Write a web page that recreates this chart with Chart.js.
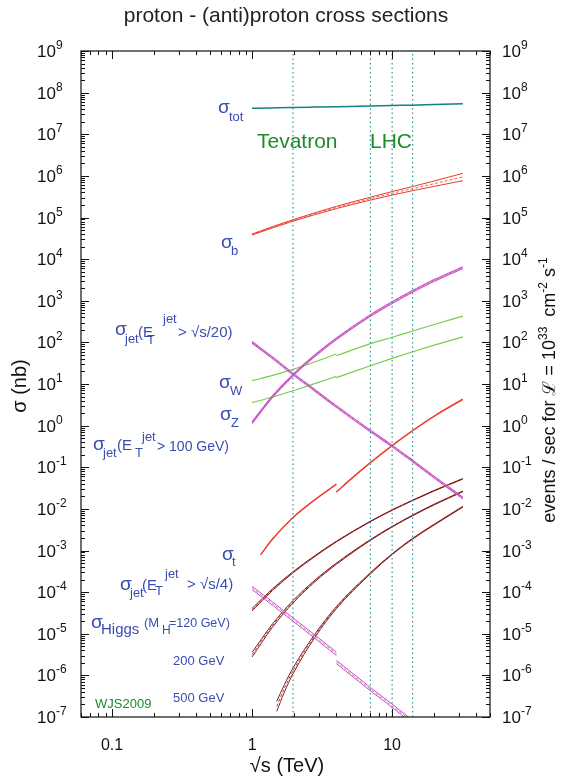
<!DOCTYPE html>
<html>
<head>
<meta charset="utf-8">
<title>proton - (anti)proton cross sections</title>
<script src="https://cdn.jsdelivr.net/npm/chart.js@4.4.1/dist/chart.umd.min.js"></script>
<style>
  html, body { margin: 0; padding: 0; background: #fff; }
  #wrap { width: 561px; height: 779px; }
</style>
</head>
<body>
<div id="wrap"><canvas id="xsec" width="561" height="779"></canvas></div>
<script>
// collider energies, sqrt(s) in TeV
const tevatronE = [1.96];
const lhcE = [7, 10, 14];

// sqrt(s) grids (TeV)
const sGrid = [1, 1.4, 1.96, 2.8, 4, 7, 10, 14, 20, 32];
const sPpbar = [1, 1.4, 1.96, 2.8, 4];
const sPp = [4, 7, 10, 14, 20, 32];
const sTopPpbar = [1.15, 1.4, 1.96, 2.8, 4];
const sTopPp = [4, 5, 7, 10, 14, 20, 32];
const sJet4Pp = [4, 7, 10, 14];
const sHiggs500 = [1.5, 1.7, 1.96, 2.8, 4, 7, 10, 14, 20, 32];

// cross sections (nb)
const sigmaTot = [4.2e7, 4.3e7, 4.4e7, 4.5e7, 4.6e7, 4.75e7, 4.9e7, 5.0e7, 5.2e7, 5.4e7];
const sigmaB = [3.9e4, 5.83e4, 8.5e4, 1.23e5, 1.74e5, 2.84e5, 3.81e5, 4.95e5, 6.5e5, 9.4e5];
const sigmaBBand = [0.012, 0.015, 0.018, 0.022, 0.027, 0.035, 0.042, 0.05, 0.065, 0.088];

const sigmaJet100 = [1.18, 5.0, 16.3, 47.4, 122, 443, 904, 1680, 3090, 6250];
const sigmaJet20 = [100, 42.7, 17.4, 7.1, 2.88, 0.74, 0.324, 0.141, 0.0575, 0.0182];
const jetBand = [0.02, 0.02, 0.02, 0.02, 0.02, 0.02, 0.02, 0.02, 0.02, 0.02];

const sigmaWPpbar = [12.0, 16.1, 22.5, 33.7, 52.4];
const sigmaWPp = [47.7, 93, 133, 188, 269, 427];
const sigmaZPpbar = [3.56, 4.88, 6.9, 10.2, 15.3];
const sigmaZPp = [14.2, 27.5, 41.3, 59.4, 86, 136];

const sigmaTopPpbar = [7.9e-4, 1.88e-3, 6.2e-3, 0.0165, 0.0393];
const sigmaTopPp = [0.0252, 0.0498, 0.129, 0.33, 0.757, 1.7, 4.3];

const sigmaJet4Ppbar = [1.26e-4, 5.3e-5, 2.19e-5, 8.6e-6, 3.3e-6];
const sigmaJet4Pp = [2.1e-6, 4.68e-7, 1.86e-7, 7.6e-8];
const jet4BandPpbar = [0.04, 0.04, 0.04, 0.04, 0.04];
const jet4BandPp = [0.04, 0.04, 0.04, 0.04];

const sigmaH120 = [3.8e-5, 1.15e-4, 3.0e-4, 7.3e-4, 1.64e-3, 5.0e-3, 9.35e-3, 0.016, 0.0274, 0.0528];
const h120Band = [0.03, 0.02, 0.014, 0.01, 0.008, 0.006, 0.006, 0.006, 0.006, 0.006];
const sigmaH200 = [3.15e-6, 1.58e-5, 5.86e-5, 1.84e-4, 4.82e-4, 1.79e-3, 3.73e-3, 6.95e-3, 0.01276, 0.0264];
const h200Band = [0.055, 0.04, 0.03, 0.02, 0.015, 0.01, 0.008, 0.008, 0.008, 0.008];
const sigmaH500 = [1.8e-7, 4.86e-7, 1.285e-6, 8.83e-6, 4.25e-5, 2.84e-4, 8.15e-4, 1.92e-3, 4.2e-3, 0.01127];
const h500Band = [0.12, 0.09, 0.07, 0.04, 0.025, 0.015, 0.01, 0.01, 0.01, 0.01];

// axis ticks
const yExponents = [-7, -6, -5, -4, -3, -2, -1, 0, 1, 2, 3, 4, 5, 6, 7, 8, 9];
const xTickValues = [0.1, 1, 10];
const xTickLabels = ["0.1", "1", "10"];

const X_MIN = 0.06, X_MAX = 50;
const Y_MIN = 1e-7, Y_MAX = 1e9;

const C_TEAL = "#16807f";
const C_RED = "#ec3a2a";
const C_PINK = "#c653c0";
const C_GREEN = "#72cf4c";
const C_BROWN = "#871d1d";
const C_DOT = "#2a9c9c";
const C_LABEL = "#3a4db2";
const C_GTEXT = "#1f8a2c";
const FONT = "'Liberation Sans', Arial, Helvetica, sans-serif";

function pts(xs, ys) {
  return xs.map((x, i) => ({ x: x, y: ys[i] }));
}

function line(xs, ys, color, width) {
  return { data: pts(xs, ys), borderColor: color, borderWidth: width };
}

// band: two solid edges and a dashed central curve
function band(xs, ys, widths, color, width) {
  const up = ys.map((y, i) => y * Math.pow(10, widths[i]));
  const lo = ys.map((y, i) => y / Math.pow(10, widths[i]));
  return [
    line(xs, up, color, width),
    { data: pts(xs, ys), borderColor: color, borderWidth: 0.8, borderDash: [3, 2] },
    line(xs, lo, color, width),
  ];
}

function vline(x) {
  return {
    data: [{ x: x, y: Y_MIN }, { x: x, y: Y_MAX }],
    borderColor: C_DOT,
    borderWidth: 1.2,
    borderDash: [1.5, 3],
    cubicInterpolationMode: "default",
    tension: 0,
  };
}

const datasets = [].concat(
  tevatronE.map(vline),
  lhcE.map(vline),
  [line(sGrid, sigmaTot, C_TEAL, 1.5)],
  band(sGrid, sigmaB, sigmaBBand, C_RED, 1),
  band(sGrid, sigmaJet100, jetBand, C_PINK, 1.1),
  band(sGrid, sigmaJet20, jetBand, C_PINK, 1.1),
  [line(sPpbar, sigmaWPpbar, C_GREEN, 1.2), line(sPp, sigmaWPp, C_GREEN, 1.2)],
  [line(sPpbar, sigmaZPpbar, C_GREEN, 1.2), line(sPp, sigmaZPp, C_GREEN, 1.2)],
  [line(sTopPpbar, sigmaTopPpbar, C_RED, 1.5), line(sTopPp, sigmaTopPp, C_RED, 1.5)],
  band(sPpbar, sigmaJet4Ppbar, jet4BandPpbar, C_PINK, 1),
  band(sJet4Pp, sigmaJet4Pp, jet4BandPp, C_PINK, 1),
  band(sGrid, sigmaH120, h120Band, C_BROWN, 1),
  band(sGrid, sigmaH200, h200Band, C_BROWN, 1),
  band(sHiggs500, sigmaH500, h500Band, C_BROWN, 1)
);

// text pieces at fixed spots: [text, x, baseline, size]
function put(ctx, parts, color) {
  parts.forEach((p) => {
    ctx.fillStyle = p[4] || color;
    ctx.font = p[3] + "px " + FONT;
    ctx.fillText(p[0], p[1], p[2]);
  });
}

// pieces laid out in a row: [text, size, raise]
function row(ctx, pieces, x, y) {
  let cx = x;
  pieces.forEach((p) => {
    ctx.font = p[1] + "px " + FONT;
    ctx.fillText(p[0], cx, y - (p[2] || 0));
    cx += ctx.measureText(p[0]).width;
  });
  return cx - x;
}

function rowWidth(ctx, pieces) {
  let w = 0;
  pieces.forEach((p) => {
    ctx.font = p[1] + "px " + FONT;
    w += ctx.measureText(p[0]).width;
  });
  return w;
}

const decorations = {
  id: "decorations",
  afterDraw(chart) {
    const ctx = chart.ctx;
    const a = chart.chartArea;
    const xs = chart.scales.x;
    const ys = chart.scales.y;
    ctx.save();

    // frame
    ctx.strokeStyle = "#111";
    ctx.lineWidth = 1.2;
    ctx.strokeRect(a.left, a.top, a.right - a.left, a.bottom - a.top);

    // y ticks, both sides, pointing inward
    ctx.lineWidth = 1;
    ctx.beginPath();
    yExponents.forEach((e) => {
      for (let m = 1; m <= 9; m++) {
        const v = m * Math.pow(10, e);
        if (v > Y_MAX * 1.0001) break;
        const py = Math.round(ys.getPixelForValue(v)) + 0.5;
        const len = m === 1 ? 8 : 4;
        ctx.moveTo(a.left, py); ctx.lineTo(a.left + len, py);
        ctx.moveTo(a.right, py); ctx.lineTo(a.right - len, py);
      }
    });
    // x ticks, top and bottom
    [-2, -1, 0, 1].forEach((e) => {
      for (let m = 1; m <= 9; m++) {
        const v = m * Math.pow(10, e);
        if (v < X_MIN * 0.999 || v > X_MAX * 1.0001) continue;
        const px = Math.round(xs.getPixelForValue(v)) + 0.5;
        const len = m === 1 ? 8 : 4;
        ctx.moveTo(px, a.bottom); ctx.lineTo(px, a.bottom - len);
        ctx.moveTo(px, a.top); ctx.lineTo(px, a.top + len);
      }
    });
    ctx.stroke();

    // y tick labels
    ctx.fillStyle = "#111";
    ctx.textAlign = "left";
    ctx.textBaseline = "alphabetic";
    yExponents.forEach((e) => {
      const py = ys.getPixelForValue(Math.pow(10, e));
      const pieces = [["10", 17, 0], [e < 0 ? "-" + (-e) : String(e), 12, 8]];
      row(ctx, pieces, 37, py + 6);
      row(ctx, pieces, 502, py + 6);
    });

    // x tick labels
    ctx.font = "16px " + FONT;
    ctx.textAlign = "center";
    xTickValues.forEach((v, i) => {
      ctx.fillText(xTickLabels[i], xs.getPixelForValue(v), 750);
    });

    // title and axis titles
    ctx.fillStyle = "#222";
    ctx.font = "21px " + FONT;
    ctx.fillText("proton - (anti)proton cross sections", 286, 22);
    ctx.fillStyle = "#111";
    ctx.font = "20px " + FONT;
    ctx.fillText("\u221As (TeV)", 287, 772);

    ctx.save();
    ctx.translate(26, 386);
    ctx.rotate(-Math.PI / 2);
    ctx.fillText("\u03C3 (nb)", 0, 0);
    ctx.restore();

    ctx.save();
    ctx.translate(555, 390);
    ctx.rotate(-Math.PI / 2);
    ctx.textAlign = "left";
    const rt = [["events / sec for ", 18, 0], ["\u2112", 18, 0], [" = 10", 18, 0], ["33", 12, 8],
      ["  cm", 18, 0], ["-2", 12, 8], [" s", 18, 0], ["-1", 12, 8]];
    row(ctx, rt, -rowWidth(ctx, rt) / 2, 0);
    ctx.restore();

    // curve labels
    ctx.textAlign = "left";
    put(ctx, [["Tevatron", 257, 148, 21], ["LHC", 370, 148, 21]], C_GTEXT);
    put(ctx, [["WJS2009", 95, 708, 13]], C_GTEXT);
    put(ctx, [
      ["\u03C3", 218, 113, 19], ["tot", 229, 121, 13],
      ["\u03C3", 221, 248, 19], ["b", 231, 255, 13],
      ["\u03C3", 115, 335, 19], ["jet", 125, 343, 13], ["(E", 138, 337, 15], ["T", 147, 344, 13],
      ["jet", 163, 323, 13], ["> \u221As/20)", 178, 337, 15],
      ["\u03C3", 219, 388, 19], ["W", 230, 395, 13],
      ["\u03C3", 220, 420, 19], ["Z", 231, 427, 13],
      ["\u03C3", 93, 450, 19], ["jet", 103, 457, 13], ["(E", 117, 450, 15], ["T", 135, 457, 13],
      ["jet", 142, 441, 13], ["> 100 GeV)", 157, 451, 14],
      ["\u03C3", 222, 560, 19], ["t", 232, 566, 13],
      ["\u03C3", 120, 590, 19], ["jet", 130, 597, 13], ["(E", 142, 590, 15], ["T", 155, 595, 13],
      ["jet", 165, 578, 13], ["> \u221As/4)", 187, 589, 15],
      ["\u03C3", 91, 628, 19], ["Higgs", 101, 634, 15], ["(M", 144, 627, 13], ["H", 162, 634, 12],
      ["=120 GeV)", 169, 627, 12.5],
      ["200 GeV", 173, 665, 13],
      ["500 GeV", 173, 702, 13],
    ], C_LABEL);

    ctx.restore();
  },
};

new Chart(document.getElementById("xsec"), {
  type: "line",
  data: { datasets: datasets },
  options: {
    responsive: false,
    animation: false,
    events: [],
    layout: { padding: { left: 81, right: 71, top: 51, bottom: 62 } },
    elements: {
      point: { radius: 0 },
      line: { cubicInterpolationMode: "monotone", capBezierPoints: false, fill: false },
    },
    plugins: { legend: { display: false }, tooltip: { enabled: false } },
    scales: {
      x: { type: "logarithmic", min: X_MIN, max: X_MAX, display: false },
      y: { type: "logarithmic", min: Y_MIN, max: Y_MAX, display: false },
    },
  },
  plugins: [decorations],
});
</script>
</body>
</html>
